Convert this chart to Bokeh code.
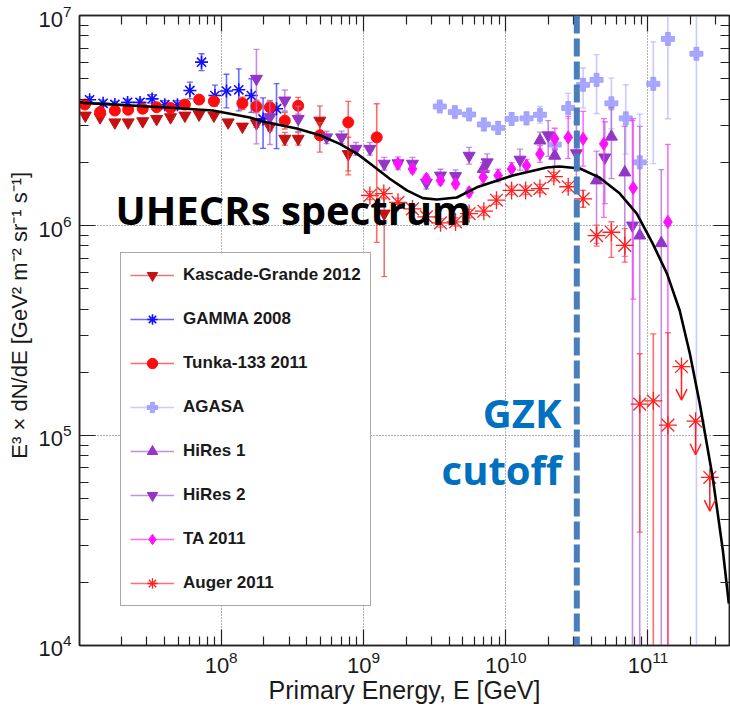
import numpy as np
from bokeh.plotting import figure
from bokeh.models import (ColumnDataSource, FixedTicker, LogTickFormatter, LogAxis, Legend,
                          LegendItem, Span, Label, Range1d, Arrow, OpenHead,
                          CustomJSTickFormatter)
from bokeh.embed import file_html
from bokeh.resources import INLINE

# ---------------- data ----------------
KG_E = [1.11e7, 1.41e7, 1.79e7, 2.22e7, 2.81e7, 3.52e7, 4.41e7, 5.56e7, 7.0e7, 8.89e7,
        1.12e8, 1.41e8, 1.77e8, 2.2e8, 2.8e8, 3.48e8, 4.94e8, 7.82e8, 1.4e9]
KG_F = [3.34e6, 3.28e6, 3.10e6, 3.10e6, 3.14e6, 3.22e6, 3.28e6, 3.34e6, 3.38e6, 3.34e6,
        3.10e6, 2.96e6, 3.07e6, 2.96e6, 2.59e6, 2.59e6, 3.16e6, 2.19e6, 1.14e6]
KG_HI = [0.01, 0.01, 0.01, 0.01, 0.01, 0.01, 0.01, 0.01, 0.01, 0.01,
         0.01, 0.01, 0.02, 0.02, 0.03, 0.03, 0.07, 0.08, 0.07]
KG_LO = [0.01, 0.01, 0.01, 0.01, 0.01, 0.01, 0.01, 0.01, 0.01, 0.01,
         0.01, 0.01, 0.02, 0.02, 0.03, 0.03, 0.07, 0.08, 0.30]

GAMMA_E = [1.19e7, 1.48e7, 1.79e7, 2.2e7, 2.69e7, 3.27e7, 4.02e7, 4.93e7, 6.03e7, 7.28e7,
           9.04e7, 1.09e8, 1.33e8, 1.63e8, 1.97e8, 2.45e8]
GAMMA_F = [3.97e6, 3.82e6, 3.77e6, 3.86e6, 3.86e6, 4.01e6, 3.76e6, 3.76e6, 4.40e6, 6.0e6,
           4.16e6, 4.37e6, 4.43e6, 4.16e6, 3.22e6, 3.6e6]
GAMMA_HI = [0.015, 0.015, 0.015, 0.015, 0.015, 0.02, 0.02, 0.02, 0.04, 0.04,
            0.05, 0.08, 0.10, 0.08, 0.10, 0.12]
GAMMA_LO = [0.015, 0.015, 0.015, 0.015, 0.015, 0.02, 0.02, 0.02, 0.04, 0.04,
            0.05, 0.08, 0.10, 0.08, 0.14, 0.19]

TUNKA_E = [1.10e7, 1.41e7, 1.79e7, 2.22e7, 2.81e7, 3.52e7, 4.41e7, 5.56e7, 7.0e7, 8.89e7,
           1.41e8, 1.77e8, 2.2e8, 2.8e8, 3.48e8, 4.94e8, 7.82e8, 1.24e9]
TUNKA_F = [3.77e6, 3.47e6, 3.53e6, 3.56e6, 3.6e6, 3.66e6, 3.63e6, 3.77e6, 3.98e6, 3.91e6,
           3.82e6, 3.69e6, 3.66e6, 3.16e6, 3.72e6, 2.69e6, 3.10e6, 2.63e6]
TUNKA_HI = [0.01, 0.01, 0.01, 0.01, 0.01, 0.01, 0.01, 0.01, 0.01, 0.01,
            0.03, 0.03, 0.03, 0.04, 0.04, 0.06, 0.10, 0.16]
TUNKA_LO = [0.01, 0.01, 0.01, 0.01, 0.01, 0.01, 0.01, 0.01, 0.01, 0.01,
            0.03, 0.03, 0.03, 0.04, 0.04, 0.08, 0.25, 0.50]

AGASA_E = [3.44e9, 4.39e9, 5.53e9, 7.02e9, 8.85e9, 1.1e10, 1.4e10, 1.74e10, 2.21e10, 2.75e10,
           3.5e10, 4.35e10, 5.53e10, 6.98e10, 8.75e10, 1.09e11, 1.38e11, 2.19e11]
AGASA_F = [3.69e6, 3.47e6, 3.38e6, 3.03e6, 2.92e6, 3.22e6, 3.24e6, 3.37e6, 2.43e6, 3.63e6,
           4.68e6, 4.94e6, 3.82e6, 3.24e6, 2.0e6, 4.73e6, 7.74e6, 6.58e6]
AGASA_HI = [0.02, 0.02, 0.02, 0.03, 0.03, 0.03, 0.03, 0.04, 0.04, 0.07,
            0.08, 0.12, 0.12, 0.16, 0.23, 0.20, 0.12, 0.20]
AGASA_LO = [0.02, 0.02, 0.02, 0.03, 0.03, 0.03, 0.03, 0.04, 0.04, 0.05,
            0.11, 0.16, 0.12, 0.17, 0.35, 0.38, 0.38, 3.0]

HIRES1_E = [6.95e9, 1.74e10, 2.21e10, 4.35e10, 5.53e10, 6.87e10, 8.75e10, 1.24e11]
HIRES1_F = [1.86e6, 2.54e6, 2.15e6, 1.64e6, 2.65e6, 1.79e6, 8.96e5, 8.24e5]
HIRES1_HI = [0.03, 0.04, 0.05, 0.14, 0.14, 0.22, 0.52, 0.35]
HIRES1_LO = [0.03, 0.04, 0.05, 0.30, 0.20, 0.40, 3.0, 3.0]

HIRES2_E = [1.77e8, 2.2e8, 2.8e8, 3.48e8, 5.51e8, 7.02e8, 8.85e8, 1.11e9, 1.4e9, 1.75e9,
            2.21e9, 2.77e9, 3.48e9, 4.44e9, 5.53e9, 7.41e9, 1.26e10, 1.99e10, 3.14e10,
            4.97e10, 7.78e10]
HIRES2_F = [5.0e6, 3.28e6, 3.94e6, 3.22e6, 2.63e6, 2.63e6, 2.32e6, 2.32e6, 1.97e6, 1.98e6,
            1.97e6, 1.6e6, 1.73e6, 1.72e6, 2.15e6, 2.0e6, 2.06e6, 2.69e6, 2.21e6,
            2.11e6, 1.0e6]
HIRES2_HI = [0.14, 0.08, 0.05, 0.06, 0.03, 0.03, 0.03, 0.03, 0.03, 0.03,
             0.03, 0.03, 0.03, 0.03, 0.04, 0.04, 0.05, 0.07, 0.15, 0.17, 0.50]
HIRES2_LO = [0.31, 0.13, 0.05, 0.06, 0.03, 0.03, 0.03, 0.03, 0.03, 0.03,
             0.03, 0.03, 0.03, 0.03, 0.04, 0.04, 0.05, 0.10, 0.15, 0.22, 3.0]

TA_E = [1.75e9, 2.21e9, 2.77e9, 3.48e9, 4.44e9, 5.53e9, 6.95e9, 8.85e9, 1.1e10, 1.4e10,
        1.74e10, 2.21e10, 2.75e10, 3.5e10, 4.89e10, 7.87e10, 1.38e11]
TA_F = [1.97e6, 1.86e6, 1.67e6, 1.64e6, 1.58e6, 1.44e6, 1.70e6, 1.73e6, 1.86e6, 1.93e6,
        2.19e6, 2.59e6, 2.63e6, 2.59e6, 2.45e6, 1.51e6, 1.04e6]
TA_HI = [0.02, 0.02, 0.02, 0.02, 0.02, 0.02, 0.03, 0.03, 0.03, 0.03,
         0.04, 0.05, 0.10, 0.13, 0.12, 0.33, 0.37]
TA_LO = [0.02, 0.02, 0.02, 0.02, 0.02, 0.02, 0.03, 0.03, 0.03, 0.03,
         0.04, 0.05, 0.10, 0.13, 0.35, 0.53, 3.0]

AUGER_E = [1.11e9, 1.39e9, 1.75e9, 2.21e9, 2.77e9, 3.48e9, 4.44e9, 5.53e9, 7.02e9, 8.61e9,
           1.1e10, 1.38e10, 1.74e10, 2.18e10, 2.75e10, 3.5e10, 4.35e10, 5.53e10, 6.87e10,
           8.75e10, 1.09e11, 1.38e11, 1.72e11, 2.16e11, 2.72e11]
AUGER_F = [1.39e6, 1.42e6, 1.29e6, 1.2e6, 1.10e6, 1.03e6, 1.04e6, 1.14e6, 1.17e6, 1.32e6,
           1.47e6, 1.47e6, 1.50e6, 1.71e6, 1.53e6, 1.34e6, 8.95e5, 9.29e5, 8.04e5,
           1.41e5, 1.46e5, 1.12e5, 2.13e5, 1.17e5, 6.31e4]
AUGER_HI = [0.02, 0.02, 0.02, 0.02, 0.02, 0.02, 0.02, 0.02, 0.02, 0.02,
            0.02, 0.02, 0.02, 0.02, 0.02, 0.04, 0.05, 0.05, 0.08,
            0.24, 0.32, 0.44, 0.0, 0.0, 0.0]
AUGER_LO = [0.02, 0.02, 0.02, 0.02, 0.02, 0.02, 0.02, 0.02, 0.02, 0.02,
            0.02, 0.02, 0.02, 0.02, 0.02, 0.04, 0.05, 0.12, 0.08,
            0.61, 3.0, 3.0, 0.0, 0.0, 0.0]
AUGER_UL = [0, 0, 0, 0, 0, 0, 0, 0, 0, 0, 0, 0, 0, 0, 0, 0, 0, 0, 0, 0, 0, 0, 1, 1, 1]

CURVE_E = [1.0e7, 1.07e7, 4.15e7, 8.75e7, 1.59e8, 1.96e8, 3.4e8, 4.94e8, 6.82e8, 9.0e8,
           1.16e9, 1.53e9, 2.02e9, 2.61e9, 3.28e9, 4.53e9, 6.27e9, 1.12e10, 1.95e10,
           2.4e10, 3.32e10, 4.58e10, 6.34e10, 8.34e10, 1.08e11, 1.36e11, 1.67e11,
           1.97e11, 2.31e11, 2.85e11, 3.36e11, 3.7e11]
CURVE_F = [3.89e6, 3.84e6, 3.65e6, 3.53e6, 3.27e6, 3.13e6, 2.90e6, 2.69e6, 2.45e6, 2.20e6,
           1.93e6, 1.67e6, 1.47e6, 1.35e6, 1.33e6, 1.36e6, 1.52e6, 1.73e6, 1.89e6,
           1.91e6, 1.87e6, 1.69e6, 1.42e6, 1.14e6, 8.2e5, 5.9e5, 3.94e5,
           2.45e5, 1.42e5, 6.31e4, 2.83e4, 1.58e4]

GZK_E = 3.16e10

X_MAJOR = [1e8, 1e9, 1e10, 1e11]
Y_MAJOR = [1e4, 1e5, 1e6, 1e7]

# ---------------- figure ----------------
FRAME_L, FRAME_T, FRAME_B = 79, 15, 645
p = figure(width=730, height=715, x_axis_type="log", y_axis_type="log",
           x_range=Range1d(1.01e7, 3.74e11), y_range=Range1d(0.999e4, 1.001e7),
           output_backend="svg", toolbar_location=None,
           min_border_left=FRAME_L, min_border_right=1, min_border_top=FRAME_T,
           min_border_bottom=715 - FRAME_B)
p.background_fill_color = "white"
p.border_fill_color = "white"
p.outline_line_color = "#222222"
p.outline_line_width = 1.5

x_minor = [m * 10.0 ** e for e in range(7, 12) for m in range(2, 10)]
y_minor = [m * 10.0 ** e for e in range(4, 7) for m in range(2, 10)]
xt = FixedTicker(ticks=X_MAJOR, minor_ticks=x_minor)
yt = FixedTicker(ticks=Y_MAJOR, minor_ticks=y_minor)
p.xaxis.ticker = xt
p.yaxis.ticker = yt
p.xgrid.ticker = xt
p.ygrid.ticker = yt
p.xaxis.formatter = LogTickFormatter()
p.yaxis.formatter = LogTickFormatter()


def style_axis(ax, labels=True):
    ax.major_tick_in = 16
    ax.major_tick_out = 0
    ax.minor_tick_in = 9
    ax.minor_tick_out = 0
    ax.major_tick_line_color = "#222222"
    ax.minor_tick_line_color = "#222222"
    ax.major_tick_line_width = 1.2
    ax.minor_tick_line_width = 1.2
    ax.axis_line_color = "#222222"
    ax.axis_line_width = 1.5
    if labels:
        ax.major_label_text_font = "Liberation Sans"
        ax.major_label_text_font_size = "22px"
        ax.major_label_text_color = "#1a1a1a"
        ax.major_label_standoff = 8
    else:
        ax.major_label_text_font_size = "1px"
        ax.major_label_standoff = 0


style_axis(p.xaxis[0])
style_axis(p.yaxis[0])
p.xaxis.major_label_standoff = 5
p.xaxis.axis_label = "Primary Energy, E [GeV]"
# leading no-break spaces nudge the centred label slightly upward, as in the reference
p.yaxis.axis_label = "\u00a0\u00a0\u00a0\u00a0\u00a0E³ × dN/dE [GeV² m⁻² sr⁻¹ s⁻¹]"
for ax in (p.xaxis[0], p.yaxis[0]):
    ax.axis_label_text_font = "Liberation Sans"
    ax.axis_label_text_font_style = "normal"
    ax.axis_label_text_color = "#1a1a1a"
p.xaxis.axis_label_text_font_size = "25px"
p.xaxis.axis_label_standoff = 0
p.yaxis.axis_label_text_font_size = "22px"
p.yaxis.axis_label_standoff = 3

blank = CustomJSTickFormatter(code="return ''")
top_axis = LogAxis(ticker=xt, formatter=blank)
style_axis(top_axis, labels=False)
p.add_layout(top_axis, "above")
right_axis = LogAxis(ticker=yt, formatter=blank)
style_axis(right_axis, labels=False)
p.add_layout(right_axis, "right")

for g in (p.xgrid[0], p.ygrid[0]):
    g.grid_line_color = "#555555"
    g.grid_line_dash = "1 2"
    g.grid_line_width = 1
    g.grid_line_alpha = 0.9


def add_series(E, F, HI, LO, marker, size, color, bar_color, bar_alpha=0.75,
               fill_alpha=1.0, line_w=1.0, hollow=False, mask=None):
    E = np.asarray(E, float)
    F = np.asarray(F, float)
    hi = F * 10 ** np.asarray(HI, float)
    lo = F * 10 ** (-np.asarray(LO, float))
    keep = np.ones(len(E), bool) if mask is None else np.asarray(mask, bool)
    src_bar = ColumnDataSource(dict(x=E[keep], lo=lo[keep], hi=hi[keep]))
    seg = p.segment(x0="x", y0="lo", x1="x", y1="hi", source=src_bar,
                    line_color=bar_color, line_alpha=bar_alpha, line_width=1.6)
    p.scatter(x="x", y="lo", source=src_bar, marker="dash", size=6,
              line_color=bar_color, line_alpha=bar_alpha, line_width=1.3)
    p.scatter(x="x", y="hi", source=src_bar, marker="dash", size=6,
              line_color=bar_color, line_alpha=bar_alpha, line_width=1.3)
    src = ColumnDataSource(dict(x=E, y=F))
    if hollow:
        sc = p.scatter(x="x", y="y", source=src, marker=marker, size=size,
                       line_color=color, line_width=line_w, fill_alpha=0)
    else:
        sc = p.scatter(x="x", y="y", source=src, marker=marker, size=size,
                       fill_color=color, fill_alpha=fill_alpha, line_color=color,
                       line_alpha=fill_alpha, line_width=line_w)
    return seg, sc


r_kg = add_series(KG_E, KG_F, KG_HI, KG_LO, "inverted_triangle", 12, "#c41212", "#e04848")
r_gam = add_series(GAMMA_E, GAMMA_F, GAMMA_HI, GAMMA_LO, "asterisk", 13, "#1010ff", "#3a3aff",
                   line_w=1.6, hollow=True)
r_tun = add_series(TUNKA_E, TUNKA_F, TUNKA_HI, TUNKA_LO, "circle", 11, "#ff0d0d", "#ff3a3a")
r_aga = add_series(AGASA_E, AGASA_F, AGASA_HI, AGASA_LO, "plus", 13, "#9a9aff", "#b4b4ff",
                   bar_alpha=0.7, fill_alpha=0.85)
r_hr1 = add_series(HIRES1_E, HIRES1_F, HIRES1_HI, HIRES1_LO, "triangle", 12, "#9435c8", "#b06ad8")
r_hr2 = add_series(HIRES2_E, HIRES2_F, HIRES2_HI, HIRES2_LO, "inverted_triangle", 12, "#9435c8",
                   "#b06ad8")
r_ta = add_series(TA_E, TA_F, TA_HI, TA_LO, "diamond", 13, "#ff10ff", "#ff3cff")
aug_mask = [u == 0 for u in AUGER_UL]
r_aug = add_series(AUGER_E, AUGER_F, AUGER_HI, AUGER_LO, "asterisk", 18, "#ff2020", "#ff4040",
                   line_w=1.3, hollow=True, mask=aug_mask)

# Auger upper limits: downward arrows
ul_E = np.array([e for e, u in zip(AUGER_E, AUGER_UL) if u])
ul_F = np.array([f for f, u in zip(AUGER_F, AUGER_UL) if u])
arrow_src = ColumnDataSource(dict(x0=ul_E, y0=ul_F, x1=ul_E, y1=ul_F * 10 ** -0.16))
p.add_layout(Arrow(source=arrow_src, x_start="x0", y_start="y0", x_end="x1", y_end="y1",
                   line_color="#ff2020", line_width=1.5,
                   end=OpenHead(size=11, line_color="#ff2020", line_width=1.5)))

# model curve
p.line(CURVE_E, CURVE_F, line_color="black", line_width=2.6)

# legend
legend = Legend(items=[
    LegendItem(label="Kascade-Grande 2012", renderers=list(r_kg)),
    LegendItem(label="GAMMA 2008", renderers=list(r_gam)),
    LegendItem(label="Tunka-133 2011", renderers=list(r_tun)),
    LegendItem(label="AGASA", renderers=list(r_aga)),
    LegendItem(label="HiRes 1", renderers=list(r_hr1)),
    LegendItem(label="HiRes 2", renderers=list(r_hr2)),
    LegendItem(label="TA 2011", renderers=list(r_ta)),
    LegendItem(label="Auger 2011", renderers=list(r_aug)),
], location=(120 - FRAME_L, FRAME_B - 606))
legend.glyph_width = 44
legend.glyph_height = 26
legend.label_height = 26
legend.label_standoff = 9
legend.padding = 9
legend.spacing = 18
legend.margin = 0
legend.border_line_color = "#555555"
legend.border_line_width = 1.3
legend.background_fill_color = "white"
legend.background_fill_alpha = 1.0
legend.label_text_font = "Liberation Sans"
legend.label_text_font_style = "bold"
legend.label_text_font_size = "17px"
legend.label_text_color = "#1a1a1a"
p.add_layout(legend, "center")

# GZK cutoff line
p.add_layout(Span(location=GZK_E, dimension="height", line_color="#4a7ebb",
                  line_width=6, line_dash="18 5"))

# annotations (screen units, measured from the frame's bottom-left corner)
TXT_SHIFT = 16
p.add_layout(Label(x=115 - FRAME_L, y=FRAME_B - 225 + TXT_SHIFT, x_units="screen",
                   y_units="screen", text="UHECRs spectrum", text_font="Open Sans",
                   text_font_style="bold", text_font_size="40px", text_color="black",
                   text_baseline="alphabetic"))
p.add_layout(Label(x=561 - FRAME_L, y=FRAME_B - 428 + TXT_SHIFT, x_units="screen",
                   y_units="screen", text="GZK", text_font="Open Sans",
                   text_font_style="bold", text_font_size="40px", text_color="#0070c0",
                   text_align="right", text_baseline="alphabetic"))
p.add_layout(Label(x=561 - FRAME_L, y=FRAME_B - 485 + TXT_SHIFT, x_units="screen",
                   y_units="screen", text="cutoff", text_font="Open Sans",
                   text_font_style="bold", text_font_size="40px", text_color="#0070c0",
                   text_align="right", text_baseline="alphabetic"))

open("out.html", "w").write(file_html(p, INLINE))
